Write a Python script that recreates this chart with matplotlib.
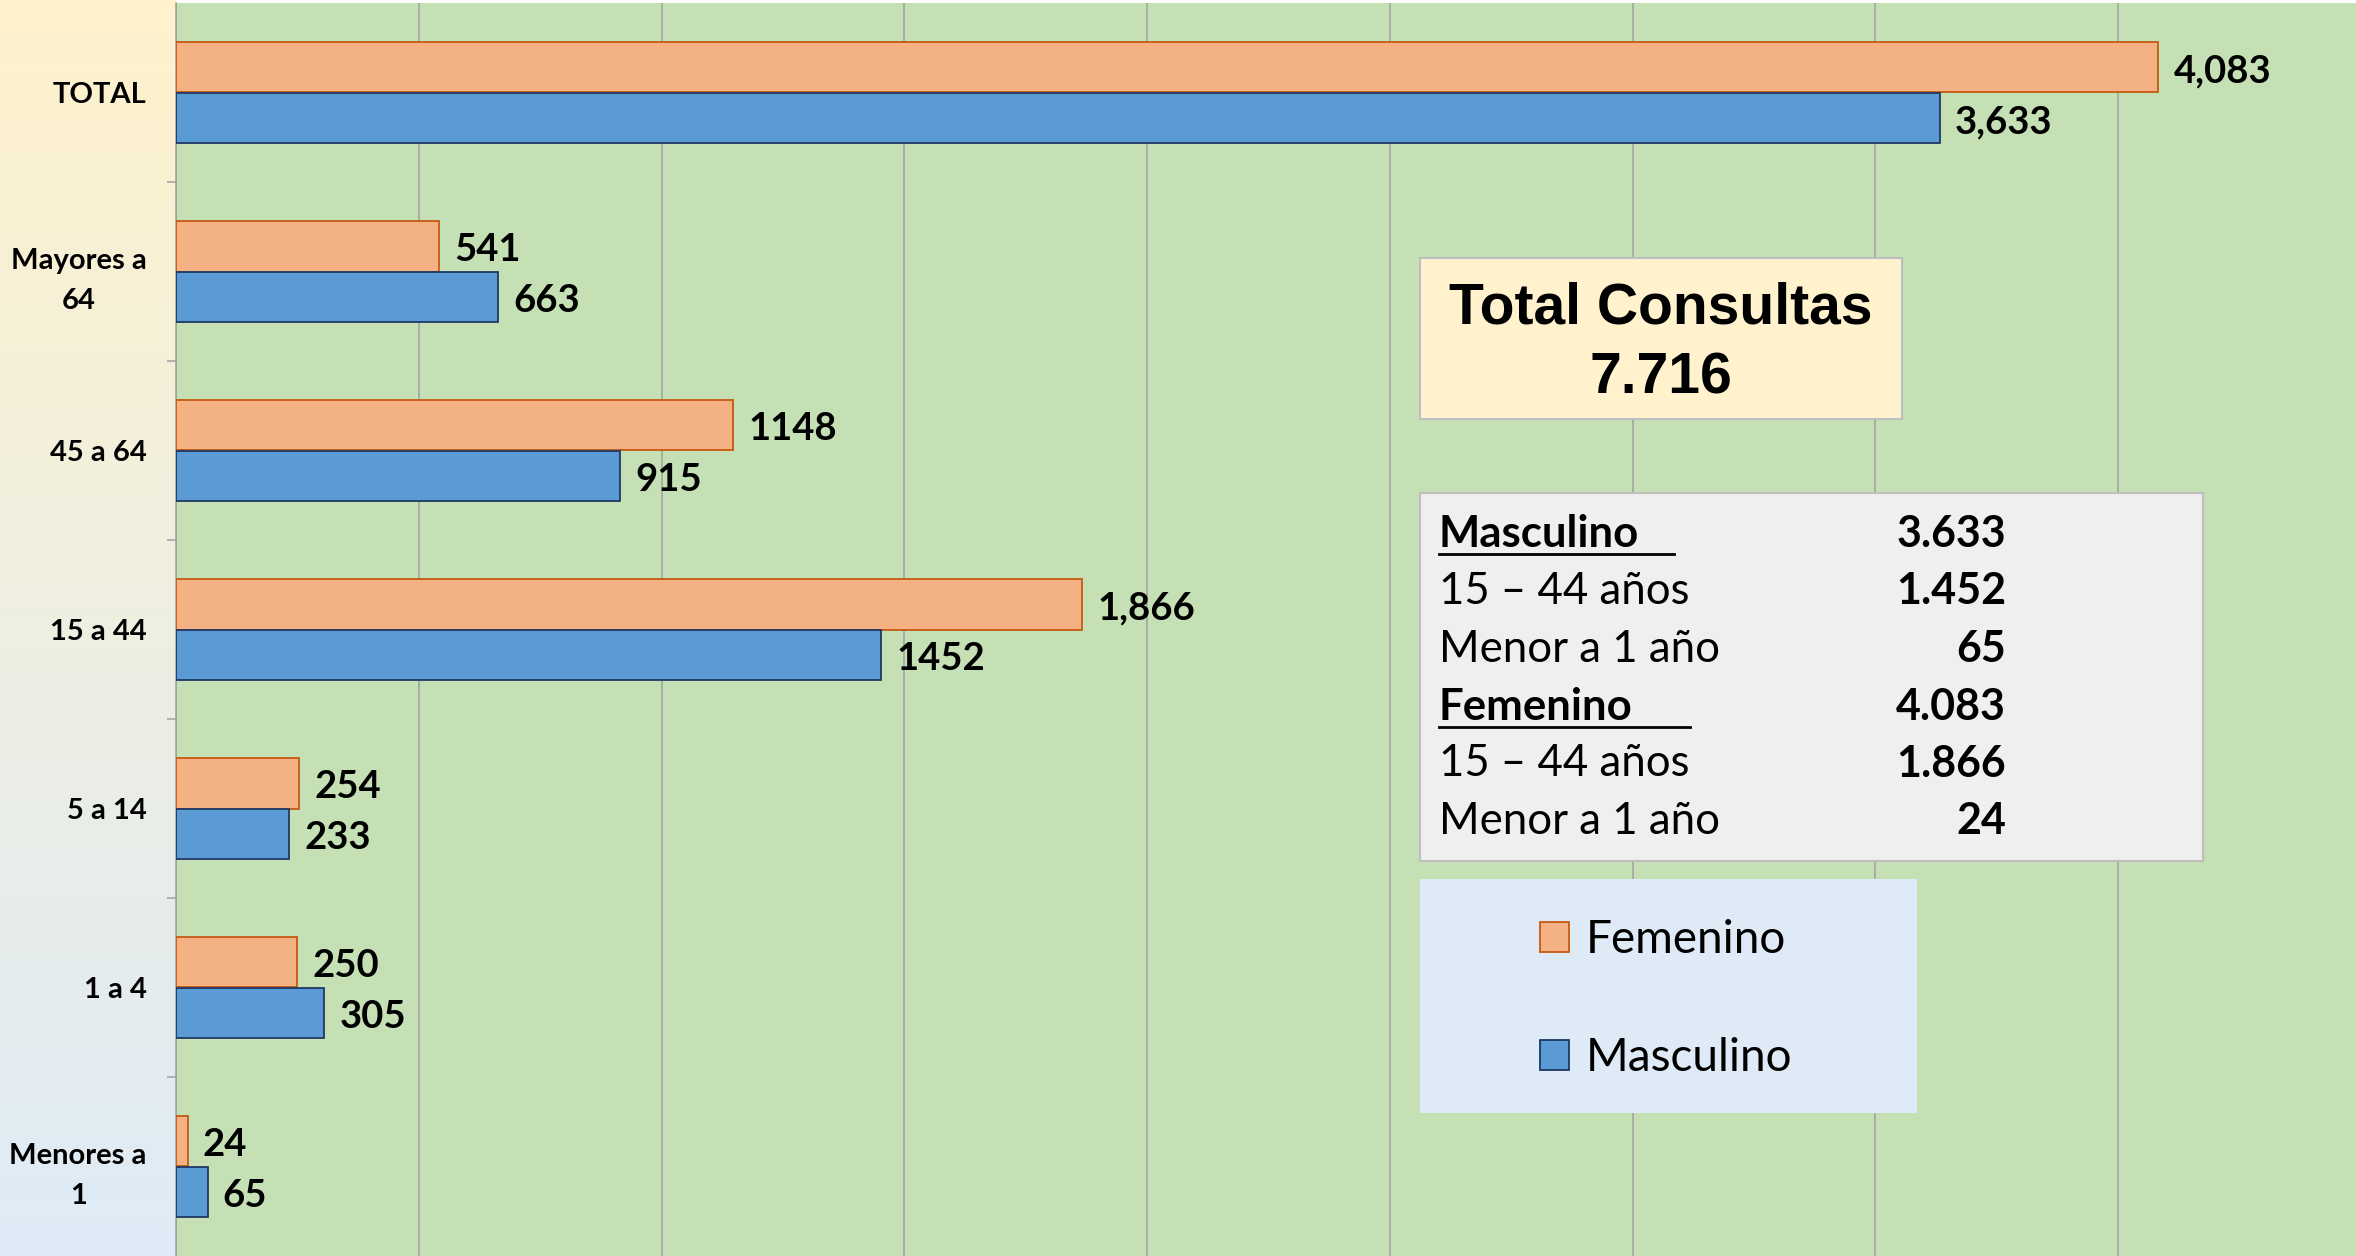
import numpy as np
import matplotlib
matplotlib.use("Agg")
import matplotlib.pyplot as plt
from matplotlib.patches import Rectangle

# data
categorias = ["TOTAL", "Mayores a\n64", "45 a 64", "15 a 44", "5 a 14", "1 a 4", "Menores a\n1"]
femenino = [4083, 541, 1148, 1866, 254, 250, 24]
masculino = [3633, 663, 915, 1452, 233, 305, 65]
etiq_fem = ["4,083", "541", "1148", "1,866", "254", "250", "24"]
etiq_mas = ["3,633", "663", "915", "1452", "233", "305", "65"]

total_titulo = "Total Consultas"
total_valor = "7.716"
tabla_txt = ["Masculino", "15 – 44 años", "Menor a 1 año", "Femenino", "15 – 44 años", "Menor a 1 año"]
tabla_val = ["3.633", "1.452", "65", "4.083", "1.866", "24"]
tabla_head = [True, False, False, True, False, False]

W, H = 2356, 1256
FONT = "Lato"
plt.rcParams['font.family'] = [FONT, 'DejaVu Sans']

def fx(x):
    return x / W

def fy(y):
    return 1 - y / H

fig = plt.figure(figsize=(W / 100, H / 100), dpi=100, facecolor='white')

# left gradient strip behind the category labels
bg = fig.add_axes([0, 0, fx(176), 1])
top = np.array([255, 242, 204]) / 255
bot = np.array([222, 235, 247]) / 255
t = np.linspace(0, 1, 256)[:, None]
grad = (top[None, :] * (1 - t) + bot[None, :] * t)[:, None, :]
bg.imshow(grad, aspect='auto', extent=[0, 1, 0, 1])
bg.set_axis_off()

ax = fig.add_axes([fx(176), 0, 1 - fx(176), fy(3)])
ax.set_facecolor('#C5E0B4')

y = np.arange(len(categorias))
h = 0.284
ax.barh(y - h / 2, femenino, height=h, color='#F4B183', edgecolor='#C55A11', linewidth=1.3, label='Femenino', zorder=3)
ax.barh(y + h / 2, masculino, height=h, color='#5B9BD5', edgecolor='#1F3864', linewidth=1.3, label='Masculino', zorder=3)

for i in range(len(categorias)):
    ax.annotate(etiq_fem[i], (femenino[i], y[i] - h / 2), xytext=(11, -3), textcoords='offset points',
                va='center', ha='left', fontsize=27.5, fontweight='bold', zorder=4)
    ax.annotate(etiq_mas[i], (masculino[i], y[i] + h / 2), xytext=(11, -3), textcoords='offset points',
                va='center', ha='left', fontsize=27.5, fontweight='bold', zorder=4)

ax.set_xlim(0, 4490)
ax.set_ylim(len(categorias) - 0.5, -0.5)
ax.set_xticks(np.arange(0, 4500, 500))
ax.xaxis.grid(True, color='#A0A0A0', linewidth=1.1, zorder=0)
ax.set_axisbelow(True)
ax.tick_params(axis='x', length=0, labelbottom=False)

ax.set_yticks(y)
ax.set_yticklabels(categorias, fontsize=21, fontweight='bold', linespacing=1.65)
for lab in ax.get_yticklabels():
    lab.set_multialignment('center')
ax.set_yticks(np.arange(0.5, len(categorias) - 1, 1), minor=True)
ax.tick_params(axis='y', which='major', length=0, pad=21)
ax.tick_params(axis='y', which='minor', length=6.5, width=1.1, color='#A0A0A0', direction='out')

for s in ['top', 'right', 'bottom']:
    ax.spines[s].set_visible(False)
ax.spines['left'].set_color('#A0A0A0')
ax.spines['left'].set_linewidth(1.1)

# "Total Consultas" box
fig.add_artist(Rectangle((fx(1420), fy(419)), fx(1902 - 1420), (419 - 258) / H, transform=fig.transFigure,
                         facecolor='#FFF2CC', edgecolor='#BFBFBF', linewidth=1.5))
fig.text(fx(1661), fy(309), total_titulo, family='Liberation Sans', fontsize=41, fontweight='bold',
         ha='center', va='center')
fig.text(fx(1661), fy(378), total_valor, family='Liberation Sans', fontsize=41, fontweight='bold',
         ha='center', va='center')

# summary table box
fig.add_artist(Rectangle((fx(1420), fy(861)), fx(2203 - 1420), (861 - 493) / H, transform=fig.transFigure,
                         facecolor='#EFEFEF', edgecolor='#BFBFBF', linewidth=1.5))
row_y = [534, 591, 649, 707, 764, 821]
for i in range(len(tabla_txt)):
    fig.text(fx(1439), fy(row_y[i]), tabla_txt[i], fontsize=31.5,
             fontweight='bold' if tabla_head[i] else 'normal', ha='left', va='center')
    fig.text(fx(2006), fy(row_y[i]), tabla_val[i], fontsize=31, fontweight='bold', ha='right', va='center')
fig.add_artist(plt.Line2D([fx(1439), fx(1674)], [fy(554), fy(554)], transform=fig.transFigure, color='black', linewidth=2))
fig.add_artist(plt.Line2D([fx(1439), fx(1690)], [fy(727), fy(727)], transform=fig.transFigure, color='black', linewidth=2))

# legend box
fig.add_artist(Rectangle((fx(1420), fy(1113)), fx(1917 - 1420), (1113 - 879) / H, transform=fig.transFigure,
                         facecolor='#DEEBF7', edgecolor='none'))
fig.legend(loc='center left', bbox_to_anchor=(fx(1540), fy(999)), frameon=False, fontsize=33,
           handlelength=0.64, handleheight=0.64, handletextpad=0.35, labelspacing=1.66,
           borderpad=0, borderaxespad=0)

fig.savefig('out.png', dpi=100, facecolor=fig.get_facecolor())
